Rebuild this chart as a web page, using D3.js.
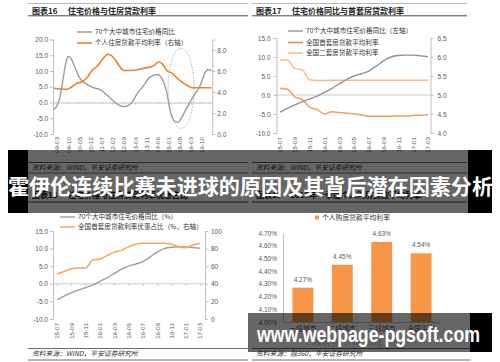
<!DOCTYPE html>
<html><head><meta charset="utf-8">
<script src="https://cdn.jsdelivr.net/npm/d3@7"></script>
<style>
body{margin:0;background:#fff;}
svg{display:block;}
text{font-family:"Noto Sans CJK SC","Noto Sans",sans-serif;}
</style>
</head><body>
<svg id="c" width="500" height="362"></svg>
<script>
// ---------- DATA ----------
// Chart 16
const c16PriceDates = ["2009-01","2009-03","2009-05","2009-07","2009-09","2009-10","2009-12","2010-02","2010-05","2010-09","2011-02","2011-06","2011-12","2012-05","2012-09","2013-02","2013-05","2013-09","2014-01","2014-06","2014-09","2014-12","2015-02","2015-05","2015-07","2015-09","2015-12","2016-04","2016-09","2016-12","2017-02","2017-04"];
const c16PriceValues = [-2.2,-1.0,2.0,8.0,13.5,14.6,13.8,11.5,8.0,6.0,4.7,4.1,1.6,-0.6,-1.3,0.0,2.5,5.1,7.9,8.9,7.5,3.0,-2.5,-6.0,-6.3,-5.0,-2.2,1.5,5.5,9.5,10.5,10.0];
const c16RateDates = ["2009-01","2009-09","2009-12","2010-03","2010-07","2010-10","2011-01","2011-04","2011-08","2011-11","2012-03","2012-06","2012-09","2013-02","2013-09","2014-03","2014-07","2014-09","2014-12","2015-03","2015-08","2016-01","2016-04","2017-04"];
const c16RateValues = [4.35,4.25,4.45,4.8,5.0,5.4,6.05,6.4,7.2,7.6,7.2,6.5,6.05,6.05,6.25,6.45,6.85,6.7,6.05,5.8,5.1,4.6,4.4,4.4];
const c16XTicks = ["09-03","09-10","10-05","10-12","11-07","12-02","12-09","13-04","13-11","14-06","15-01","15-08","16-03","16-10"];
const c16LeftTicks = [-10,-5,0,5,10,15,20];
const c16RightTicks = [0,2,4,6,8];

// Chart 17 / 18 (monthly 2015-07 .. 2017-03)
const monthly = ["15-07","15-08","15-09","15-10","15-11","15-12","16-01","16-02","16-03","16-04","16-05","16-06","16-07","16-08","16-09","16-10","16-11","16-12","17-01","17-02","17-03"];
const monthlyTicks = ["15-07","15-09","15-11","16-01","16-03","16-05","16-07","16-09","16-11","17-01","17-03"];
const priceYoY = [-4.5,-3.5,-2.6,-1.8,-1.1,-0.3,0.7,1.7,2.9,4.1,5.0,5.6,6.3,7.6,9.0,10.0,10.4,10.5,10.5,10.3,10.1];
const c17FirstRate = [5.18,5.15,4.95,4.88,4.68,4.62,4.50,4.56,4.54,4.52,4.50,4.48,4.44,4.44,4.44,4.44,4.45,4.45,4.46,4.47,4.48];
const c17SecondRate = [5.92,5.92,5.70,5.66,5.40,5.38,5.38,5.39,5.39,5.39,5.39,5.39,5.39,5.39,5.39,5.39,5.39,5.39,5.39,5.39,5.39];
const c17LeftTicks = [-10,-5,0,5,10,15];
const c17RightTicks = [4.0,4.5,5.0,5.5,6.0,6.5];
const c18Share = [51,54,57,58,58,67,68,72,76,78,82,85,86,86,86,86,85,82,81,84,86];
const c18LeftTicks = [-10,-5,0,5,10,15];
const c18RightTicks = [0,20,40,60,80,100];

// Chart 19
const c19Cats = ["一线城市","二线城市","三线城市","全国平均"];
const c19Values = [4.27,4.45,4.63,4.54];
const c19Ticks = [4.0,4.1,4.2,4.3,4.4,4.5,4.6,4.7];

// ---------- HELPERS ----------
const svg = d3.select("#c");
const AX = "#bfbfbf", LBL = "#595959";
const GRAY = "#9c9c9c";
const f1 = d => d.toFixed(1);
const mIdx = s => { const [y,m] = s.split("-").map(Number); return (y-2009)*12 + (m-1); };

function styleAxis(g, size){
  g.attr("font-family",null).attr("font-size",null);
  g.select(".domain").attr("stroke",AX);
  g.selectAll(".tick line").attr("stroke",AX);
  g.selectAll(".tick text").attr("fill",LBL).style("font-size",(size||6.5)+"px")
    .style("font-family","'Liberation Sans','Noto Sans',sans-serif");
  return g;
}
function rotLabels(g){
  g.select(".domain").remove();
  g.selectAll(".tick text").attr("transform","rotate(-90)").attr("text-anchor","end")
    .attr("x",-3).attr("y",0).attr("dy","0.32em");
}
function hline(x1,x2,y,color,w){
  svg.append("line").attr("x1",x1).attr("x2",x2).attr("y1",y).attr("y2",y)
    .attr("stroke",color||"#444").attr("stroke-width",w||0.8);
}
function title(xNum,xTxt,y,num,txt){
  svg.append("text").attr("x",xNum).attr("y",y).attr("font-size",8).attr("font-weight",700).attr("fill","#222").text(num);
  svg.append("text").attr("x",xTxt).attr("y",y).attr("font-size",8).attr("font-weight",700).attr("fill","#222").text(txt);
}
function source(x,y,txt){
  svg.append("text").attr("x",x).attr("y",y).attr("font-size",6.8).attr("font-style","italic").attr("fill","#333").text(txt);
}
function legendLine(x,y,color,txt,w){
  svg.append("line").attr("x1",x).attr("x2",x+15).attr("y1",y).attr("y2",y).attr("stroke",color).attr("stroke-width",w||1.5);
  svg.append("text").attr("x",x+18).attr("y",y+2.3).attr("font-size",6.6).attr("fill","#333").text(txt);
}
function path(data, x, y, color, w){
  svg.append("path").datum(data).attr("fill","none").attr("stroke",color).attr("stroke-width",w||1.4)
    .attr("stroke-linejoin","round")
    .attr("d", d3.line().x(d=>x(d[0])).y(d=>y(d[1])).curve(d3.curveMonotoneX));
}

// ---------- PANEL FRAMES ----------
hline(28,248,3.5,"#888",0.6); hline(28,248,15.8,"#333",0.9);
hline(252,467,3.5,"#888",0.6); hline(252,467,15.8,"#333",0.9);
title(32,68,14,"图表16","住宅价格与住房贷款利率");
title(256,292,14,"图表17","住宅价格同比与首套房贷款利率");

hline(28,248,162.5,"#444",0.8); hline(28,248,173,"#444",0.8);
hline(252,467,162.5,"#444",0.8); hline(252,467,173,"#444",0.8);
source(32,170,"资料来源：WIND，平安证券研究所");
source(256,170,"资料来源：WIND，平安证券研究所");

hline(28,248,202,"#333",0.9); hline(252,467,202,"#333",0.9);
title(32,68,198,"图表18","住宅价格与住房贷款利率优惠占比");
title(256,290,198,"图表19","2016年一季度个人购房贷款平均利率");

hline(28,248,348.5,"#444",0.8); hline(28,248,360,"#444",0.8);
hline(252,470,348.5,"#444",0.8); hline(252,470,360,"#444",0.8);
source(32,356,"资料来源：WIND，平安证券研究所");
source(256,356,"资料来源：融360，平安证券研究所");

// ---------- CHART 16 ----------
{
  const x = d3.scaleLinear().domain([-0.5,99.5]).range([53,212.3]);
  const yL = d3.scaleLinear().domain([-10,20]).range([134,39.5]);
  const yR = d3.scaleLinear().domain([0,9]).range([134,39.5]);
  styleAxis(svg.append("g").attr("transform","translate(53,0)")
    .call(d3.axisLeft(yL).tickValues(c16LeftTicks).tickFormat(f1).tickSize(3).tickPadding(2)));
  styleAxis(svg.append("g").attr("transform","translate(212.3,0)")
    .call(d3.axisRight(yR).tickValues(c16RightTicks).tickFormat(f1).tickSize(3).tickPadding(2)));
  const tickM = c16XTicks.map(t=>mIdx("20"+t));
  styleAxis(svg.append("g").attr("transform",`translate(0,${yL(0)})`)
    .call(d3.axisBottom(x).tickValues(tickM).tickFormat("").tickSize(2).tickSizeOuter(0)));
  const gb = styleAxis(svg.append("g").attr("transform","translate(0,134)")
    .call(d3.axisBottom(x).tickValues(tickM).tickFormat((d,i)=>c16XTicks[i]).tickSize(0)), 6.2);
  rotLabels(gb);
  path(c16PriceDates.map((d,i)=>[mIdx(d),c16PriceValues[i]]), x, yL, GRAY, 1.4);
  path(c16RateDates.map((d,i)=>[mIdx(d),c16RateValues[i]]), x, yR, "#e8832e", 1.6);
  // dotted highlight ellipse
  svg.append("ellipse").attr("cx",x(mIdx("2015-07"))+3).attr("cy",yL(4.5)).attr("rx",13).attr("ry",40)
    .attr("fill","none").attr("stroke","#9a9a9a").attr("stroke-width",0.9).attr("stroke-dasharray","1.2,1.4");
  legendLine(77,32,"#a8a8a8","70个大中城市住宅价格同比",1.6);
  legendLine(77,43,"#e8832e","个人住房贷款平均利率（右轴）",1.6);
}

// ---------- CHART 17 ----------
{
  const x = d3.scalePoint().domain(monthly).range([280,428]);
  const yL = d3.scaleLinear().domain([-10,15]).range([133,38]);
  const yR = d3.scaleLinear().domain([4.0,6.5]).range([133,38]);
  styleAxis(svg.append("g").attr("transform","translate(276.5,0)")
    .call(d3.axisLeft(yL).tickValues(c17LeftTicks).tickFormat(f1).tickSize(3).tickPadding(3)));
  styleAxis(svg.append("g").attr("transform","translate(430.5,0)")
    .call(d3.axisRight(yR).tickValues(c17RightTicks).tickFormat(f1).tickSize(3).tickPadding(4)));
  hline(276.5,430.5,yL(0),AX,0.8);
  const gb = styleAxis(svg.append("g").attr("transform","translate(0,134)")
    .call(d3.axisBottom(x).tickValues(monthlyTicks).tickSize(0)), 6.2);
  rotLabels(gb);
  path(monthly.map((m,i)=>[m,c17SecondRate[i]]), x, yR, "#f6bd88", 1.5);
  path(monthly.map((m,i)=>[m,c17FirstRate[i]]), x, yR, "#eea261", 1.5);
  path(monthly.map((m,i)=>[m,priceYoY[i]]), x, yL, "#8e9399", 1.4);
  legendLine(288,31,"#8e9399","70个大中城市住宅价格同比（左轴）",1.4);
  legendLine(288,42.5,"#ec8a35","全国首套房贷款平均利率",1.6);
  legendLine(288,53,"#f6bd88","全国二套房贷款平均利率",1.6);
}

// ---------- CHART 18 ----------
{
  const x = d3.scalePoint().domain(monthly).range([57,200]);
  const yL = d3.scaleLinear().domain([-10,15]).range([319,231]);
  const yR = d3.scaleLinear().domain([0,100]).range([319,231]);
  styleAxis(svg.append("g").attr("transform","translate(53,0)")
    .call(d3.axisLeft(yL).tickValues(c18LeftTicks).tickFormat(f1).tickSize(3).tickPadding(2)));
  styleAxis(svg.append("g").attr("transform","translate(205,0)")
    .call(d3.axisRight(yR).tickValues(c18RightTicks).tickFormat(d3.format("d")).tickSize(3).tickPadding(3)));
  const tickG = styleAxis(svg.append("g").attr("transform",`translate(0,${yL(0)})`)
    .call(d3.axisBottom(x).tickValues(monthlyTicks).tickFormat("").tickSize(2).tickSizeOuter(0)));
  tickG.select(".domain").remove();
  hline(53,205,yL(0),AX,0.8);
  const gb = styleAxis(svg.append("g").attr("transform","translate(0,320)")
    .call(d3.axisBottom(x).tickValues(monthlyTicks).tickSize(0)), 6.2);
  rotLabels(gb);
  path(monthly.map((m,i)=>[m,priceYoY[i]]), x, yL, GRAY, 1.4);
  path(monthly.map((m,i)=>[m,c18Share[i]]), x, yR, "#f5a55a", 1.5);
  legendLine(60,217,"#9c9c9c","70个大中城市住宅价格同比（%）",1.4);
  legendLine(60,227,"#f5a55a","全国首套房贷款利率优惠占比（%，右轴）",1.5);
}

// ---------- CHART 19 ----------
{
  const x = d3.scaleBand().domain(c19Cats).range([283,441]).paddingInner(0.47).paddingOuter(0.24);
  const y = d3.scaleLinear().domain([4.0,4.7]).range([322,233]);
  styleAxis(svg.append("g").attr("transform","translate(283,0)")
    .call(d3.axisLeft(y).tickValues(c19Ticks).tickFormat(d=>d.toFixed(2)+"%").tickSize(0).tickPadding(6)));
  const gb = styleAxis(svg.append("g").attr("transform","translate(0,322)")
    .call(d3.axisBottom(x).tickSize(0).tickPadding(4)), 6.8);
  gb.selectAll(".tick text").style("font-family","'Noto Sans CJK SC',sans-serif");
  svg.selectAll(".bar19").data(c19Cats).enter().append("rect")
    .attr("x",d=>x(d)).attr("width",x.bandwidth())
    .attr("y",(d,i)=>y(c19Values[i])).attr("height",(d,i)=>322-y(c19Values[i]))
    .attr("fill","#f79646");
  svg.selectAll(".lab19").data(c19Cats).enter().append("text")
    .attr("x",d=>x(d)+x.bandwidth()/2).attr("y",(d,i)=>y(c19Values[i])-6)
    .attr("text-anchor","middle").attr("font-size",6.5).attr("fill",LBL)
    .style("font-family","'Liberation Sans',sans-serif")
    .text((d,i)=>c19Values[i].toFixed(2)+"%");
  svg.append("rect").attr("x",315).attr("y",215.5).attr("width",4).attr("height",4).attr("fill","#f79646");
  svg.append("text").attr("x",322).attr("y",220).attr("font-size",6.8).attr("fill","#333").text("个人购房贷款平均利率");
  svg.append("text").attr("x",312).attr("y",345).attr("font-size",9).attr("fill","#bbb").attr("opacity",0.8).text("微信号: zhaiheng_frm");
}

// ---------- OVERLAY BANNERS ----------
svg.append("rect").attr("x",8).attr("y",150).attr("width",20).attr("height",63).attr("fill","#000");
svg.append("rect").attr("x",468).attr("y",150).attr("width",24).attr("height",63).attr("fill","#000");
svg.append("rect").attr("x",28).attr("y",150).attr("width",440).attr("height",63).attr("fill","#000").attr("opacity",0.6);
svg.append("text").attr("x",8).attr("y",194).attr("font-size",21).attr("font-weight",700).attr("fill","#fff")
  .attr("textLength",485).attr("lengthAdjust","spacingAndGlyphs")
  .text("霍伊伦连续比赛未进球的原因及其背后潜在因素分析");

svg.append("rect").attr("x",470).attr("y",313).attr("width",22).attr("height",39).attr("fill","#000");
svg.append("rect").attr("x",248).attr("y",313).attr("width",222).attr("height",39).attr("fill","#000").attr("opacity",0.6);
svg.append("text").attr("x",257).attr("y",342).attr("font-size",22).attr("font-weight",700).attr("fill","#fff")
  .style("font-family","'Liberation Sans','DejaVu Sans',sans-serif")
  .attr("textLength",223).attr("lengthAdjust","spacingAndGlyphs")
  .text("www.webpage-pgsoft.com");
</script>
</body></html>
